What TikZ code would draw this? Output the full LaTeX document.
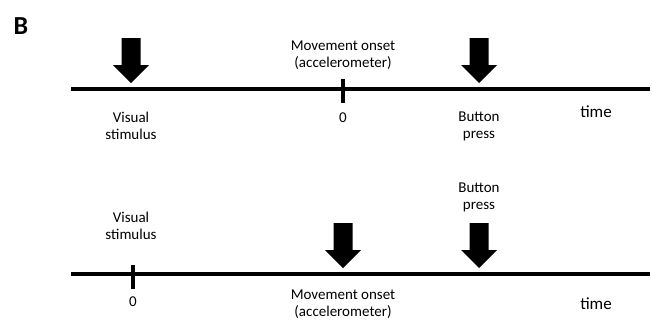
\documentclass[tikz,border=0pt]{standalone}
\usepackage{fontspec}
\setmainfont{Carlito}
\usetikzlibrary{positioning}

\begin{document}
\begin{tikzpicture}[x=1pt, y=-1pt,
    timeline/.style={line width=4pt},
    tickmark/.style={line width=3.2pt},
    evtext/.style={align=center, inner sep=0pt, font=\fontsize{15}{17}\selectfont},
    timetext/.style={inner sep=0pt, font=\fontsize{17}{20}\selectfont},
    blockarrow/.pic={\fill (0,0) -- (-18,-18) -- (-9.5,-18) -- (-9.5,-45)
      -- (9.5,-45) -- (9.5,-18) -- (18,-18) -- cycle;}]
  \useasboundingbox (0,0) rectangle (652,327);
  % panel letter
  \node[inner sep=0pt, font=\fontsize{26}{28}\selectfont\bfseries] (panel) at (21,26) {B};

  % upper timeline (aligned to movement onset)
  \coordinate (A0) at (71,89);
  \coordinate (A1) at (650,89);
  \draw[timeline] (A0) -- (A1);
  \coordinate (Atick) at (343,89);
  \draw[tickmark] ([yshift=-14pt]Atick) -- ([yshift=10pt]Atick);
  \pic at (131,83) {blockarrow};
  \pic at (479,83) {blockarrow};
  \node[evtext] (onsetA) at (343,55) {Movement onset\\(accelerometer)};
  \node[evtext] (visA) at (131,126) {Visual\\stimulus};
  \node[evtext] (zeroA) at (343,118) {0};
  \node[evtext] (btnA) at (479,126) {Button\\press};
  \node[timetext] (timeA) at (596,112) {time};

  % lower timeline (aligned to visual stimulus)
  \coordinate (B0) at (71,274);
  \coordinate (B1) at (650,274);
  \draw[timeline] (B0) -- (B1);
  \coordinate (Btick) at (133,274);
  \draw[tickmark] ([yshift=-15pt]Btick) -- ([yshift=9pt]Btick);
  \pic at (343,268) {blockarrow};
  \pic at (479,268) {blockarrow};
  \node[evtext] (visB) at (131,226) {Visual\\stimulus};
  \node[evtext] (btnB) at (479,197) {Button\\press};
  \node[evtext] (zeroB) at (133,302) {0};
  \node[evtext] (onsetB) at (343,304) {Movement onset\\(accelerometer)};
  \node[timetext] (timeB) at (596,304) {time};
\end{tikzpicture}
\end{document}
